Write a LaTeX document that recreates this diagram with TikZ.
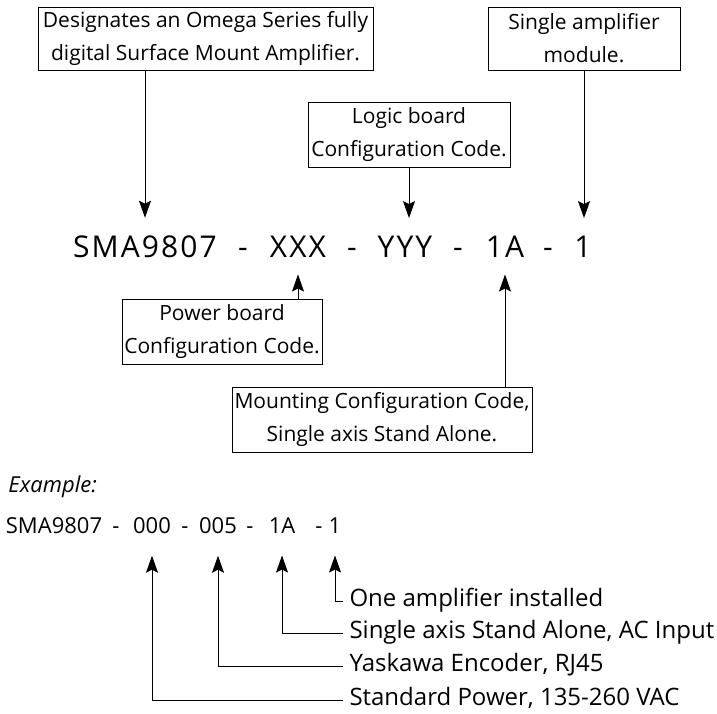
\documentclass[tikz,border=0pt]{standalone}
\usepackage{fontspec}
\setmainfont{Open Sans}
\usetikzlibrary{arrows.meta}

\begin{document}
\begin{tikzpicture}[x=1pt, y=-1pt, line width=1pt,
  >={Stealth[length=17pt, width=12pt, inset=3pt]},
  box/.style={draw, align=center, inner sep=0pt, font=\fontsize{21}{33}\selectfont},
  code/.style={anchor=base, inner xsep=0pt, inner ysep=17pt, font=\fontsize{30}{30}\selectfont\addfontfeature{LetterSpace=7}},
  ex/.style={anchor=base, inner xsep=0pt, inner ysep=22pt, font=\fontsize{22}{22}\selectfont},
  lab/.style={anchor=west, inner xsep=6pt, inner ysep=0pt, text height=16pt, text depth=5pt, font=\fontsize{24}{24}\selectfont}]
\useasboundingbox (0,0) rectangle (717,713);
% boxes
\node[box, minimum width=335pt, minimum height=63pt] (desig) at (205.5,38.5) {Designates an Omega Series fully\\digital Surface Mount Amplifier.};
\node[box, minimum width=202pt, minimum height=65pt] (logic) at (409,134.5) {Logic board\\Configuration Code.};
\node[box, minimum width=192pt, minimum height=63pt] (single) at (584,38.5) {Single amplifier\\module.};
\node[box, minimum width=200pt, minimum height=65pt] (power) at (222,331.5) {Power board\\Configuration Code.};
\node[box, minimum width=300pt, minimum height=65pt] (mtg) at (382,419.5) {Mounting Configuration Code,\\Single axis Stand Alone.};
% part number
\node[code] (sma) at (145,257) {SMA9807};
\node[code] (d1) at (243,257) {-};
\node[code] (xxx) at (298,257) {XXX};
\node[code] (d2) at (352,257) {-};
\node[code] (yyy) at (405,257) {YYY};
\node[code] (d3) at (458,257) {-};
\node[code] (mnt) at (505,257) {1A};
\node[code] (d4) at (548,257) {-};
\node[code] (one) at (583,257) {1};
\path[->]
(sma.north |- desig.south) edge (sma.north)
(logic.south) edge (logic.south |- yyy.north)
(single.south) edge (single.south |- one.north)
(xxx.south |- power.north) edge (xxx.south)
(mnt.south |- mtg.north) edge (mnt.south);
% example
\node[anchor=base west, inner sep=0pt, font=\fontsize{22}{22}\selectfont\itshape] (exlabel) at (8,492) {Example:};
\node[ex] (exsma) at (54,533) {SMA9807};
\node[ex] (e1) at (116,533) {-};
\node[ex] (exa) at (152,533) {000};
\node[ex] (e2) at (185,533) {-};
\node[ex] (exb) at (218,533) {005};
\node[ex] (e3) at (250,533) {-};
\node[ex] (exc) at (282,533) {1A};
\node[ex] (e4) at (319,533) {-};
\node[ex] (exd) at (335,533) {1};
\node[lab] (l1) at (343,601) {One amplifier installed};
\node[lab] (l2) at (343,633) {Single axis Stand Alone, AC Input};
\node[lab] (l3) at (343,666) {Yaskawa Encoder, RJ45};
\node[lab] (l4) at (343,700) {Standard Power, 135-260 VAC};
\draw[->] (l1.west) -| (exd.south);
\draw[->] (l2.west) -| (exc.south);
\draw[->] (l3.west) -| (exb.south);
\draw[->] (l4.west) -| (exa.south);
\end{tikzpicture}
\end{document}
